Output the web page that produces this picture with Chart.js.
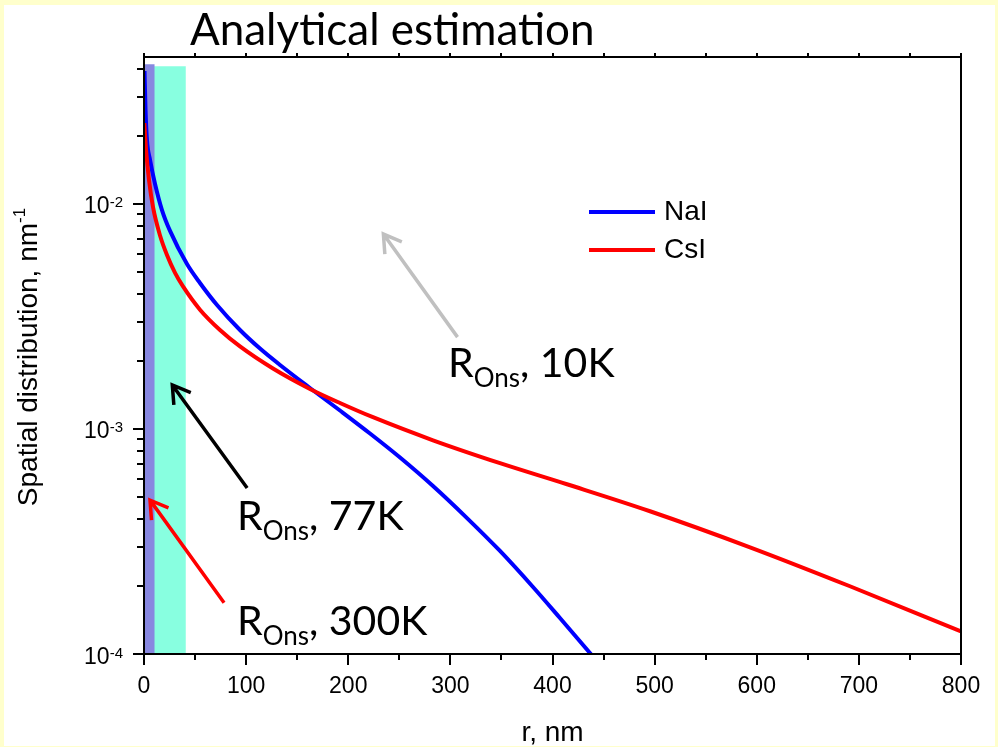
<!DOCTYPE html>
<html>
<head>
<meta charset="utf-8">
<script src="https://cdn.jsdelivr.net/npm/chart.js@4.4.1/dist/chart.umd.min.js"></script>
<style>
  html, body { margin: 0; padding: 0; background: #ffffcc; }
  #wrap { width: 998px; height: 747px; }
</style>
</head>
<body>
<div id="wrap"><canvas id="grafico" width="998" height="747"></canvas></div>
<script>
// Spatial distribution of pairs, r in nm
const naiR = [0.5, 1.5, 2.9, 5.9, 10.8, 17.6, 25.5, 42.1, 54.8, 71.5, 94, 113.6, 133.2, 162.5, 191.9, 221.3, 250.7, 283, 315.3, 348.6, 380.9, 407.3, 436.7, 446.5];
const naiV = [3.9e-2, 2.62e-2, 1.925e-2, 1.57e-2, 1.227e-2, 9.4e-3, 7.59e-3, 5.41e-3, 4.456e-3, 3.557e-3, 2.754e-3, 2.277e-3, 1.925e-3, 1.521e-3, 1.208e-3, 9.55e-4, 7.47e-4, 5.58e-4, 4.06e-4, 2.87e-4, 1.985e-4, 1.445e-4, 1.01e-4, 8.94e-5];
const csiR = [0.3, 2, 4.9, 8.8, 15.7, 22.5, 30.4, 38.2, 54.8, 74.4, 94, 126.3, 162.5, 191.9, 224.2, 283, 348.6, 414.2, 495.5, 593.4, 691.3, 800];
const csiV = [2.29e-2, 1.738e-2, 1.279e-2, 9.7e-3, 7.24e-3, 5.93e-3, 4.94e-3, 4.3e-3, 3.39e-3, 2.754e-3, 2.328e-3, 1.857e-3, 1.507e-3, 1.305e-3, 1.128e-3, 8.91e-4, 7.05e-4, 5.68e-4, 4.31e-4, 2.98e-4, 2.0e-4, 1.26e-4];

// Onsager radius bands (300K and 77K)
const band300R = [0, 10.5];
const band300Top = 4.18e-2;
const band77R = [0, 41];
const band77Top = 4.09e-2;

// Arrows pointing to R_Ons for each temperature
const arrowTemps  = ['10K', '77K', '300K'];
const arrowColors = ['#c0c0c0', '#000000', '#ff0000'];
const arrowFrom   = [[307, 2.56e-3], [101, 5.47e-4], [78.4, 1.69e-4]];
const arrowTo     = [[234.4, 7.35e-3], [27.7, 1.57e-3], [5.9, 4.83e-4]];
const labelAt     = [[297.7, 1.70e-3], [91.1, 3.56e-4], [91.1, 1.21e-4]];

// Axis ticks
const xMajor = [0, 100, 200, 300, 400, 500, 600, 700, 800];
const xMinor = [50, 150, 250, 350, 450, 550, 650, 750];
const yDecades = [1e-4, 1e-3, 1e-2];
const yExps = [-4, -3, -2];

const ARIAL = '"Liberation Sans", Arial, sans-serif';
const CALIB = 'Lato, "Open Sans", sans-serif';

function pts(xs, ys) { return xs.map((x, i) => ({ x: x, y: ys[i] })); }

function arrow(c, x0, y0, x1, y1, color) {
  const ang = Math.atan2(y1 - y0, x1 - x0);
  const len = 20, spread = 0.55;
  c.strokeStyle = color;
  c.lineWidth = 3.5;
  c.lineCap = 'butt';
  c.beginPath();
  c.moveTo(x0, y0); c.lineTo(x1, y1);
  c.moveTo(x1 - len * Math.cos(ang - spread), y1 - len * Math.sin(ang - spread));
  c.lineTo(x1, y1);
  c.lineTo(x1 - len * Math.cos(ang + spread), y1 - len * Math.sin(ang + spread));
  c.stroke();
}

function rOns(c, x, y, temp) {
  c.fillStyle = '#000';
  c.textBaseline = 'alphabetic';
  c.textAlign = 'left';
  c.font = '41px ' + CALIB;
  c.fillText('R', x, y);
  let w = c.measureText('R').width;
  c.font = '26px ' + CALIB;
  c.fillText('Ons', x + w, y + 10);
  w += c.measureText('Ons').width;
  c.font = '41px ' + CALIB;
  c.fillText(', ' + temp, x + w, y);
}

const ink = {
  id: 'ink',
  beforeDraw(chart) {
    const c = chart.ctx;
    c.save();
    c.fillStyle = '#ffffcc';
    c.fillRect(0, 0, chart.width, chart.height);
    c.fillStyle = '#ffffff';
    c.fillRect(4, 5, chart.width - 7, chart.height - 6);
    c.restore();
  },
  afterDraw(chart) {
    const c = chart.ctx, a = chart.chartArea;
    const sx = chart.scales.x, sy = chart.scales.y;
    c.save();

    // frame
    c.strokeStyle = '#000';
    c.lineWidth = 2;
    c.strokeRect(a.left, a.top, a.right - a.left, a.bottom - a.top);

    // x ticks
    c.beginPath();
    xMajor.forEach(v => {
      const px = Math.round(sx.getPixelForValue(v));
      c.moveTo(px, a.bottom); c.lineTo(px, a.bottom + 11);
      c.moveTo(px, a.top); c.lineTo(px, a.top - 4);
    });
    xMinor.forEach(v => {
      const px = Math.round(sx.getPixelForValue(v));
      c.moveTo(px, a.bottom); c.lineTo(px, a.bottom + 6);
      c.moveTo(px, a.top); c.lineTo(px, a.top - 4);
    });
    // y ticks
    yDecades.forEach(d => {
      const py = Math.round(sy.getPixelForValue(d));
      c.moveTo(a.left, py); c.lineTo(a.left - 11, py);
      for (let k = 2; k <= 9; k++) {
        if (d * k > sy.max) break;
        const pm = Math.round(sy.getPixelForValue(d * k));
        c.moveTo(a.left, pm); c.lineTo(a.left - 7, pm);
      }
    });
    c.stroke();

    // x tick labels
    c.fillStyle = '#000';
    c.font = '23px ' + ARIAL;
    c.textAlign = 'center';
    c.textBaseline = 'alphabetic';
    xMajor.forEach(v => c.fillText(String(v), sx.getPixelForValue(v), a.bottom + 39));

    // y tick labels 10^n
    yDecades.forEach((d, i) => {
      const py = sy.getPixelForValue(d);
      const sup = String(yExps[i]);
      c.textAlign = 'left';
      c.font = '15px ' + ARIAL;
      const ws = c.measureText(sup).width;
      c.font = '23px ' + ARIAL;
      const wb = c.measureText('10').width;
      const right = a.left - 21;
      c.fillText('10', right - ws - wb, py + 9.5);
      c.font = '15px ' + ARIAL;
      c.fillText(sup, right - ws, py + 3.5);
    });

    // axis titles
    c.font = '28px ' + ARIAL;
    c.textAlign = 'center';
    c.fillText('r, nm', (a.left + a.right) / 2, 741);

    c.save();
    c.translate(37, 357);
    c.rotate(-Math.PI / 2);
    c.font = '28px ' + ARIAL;
    const main = 'Spatial distribution, nm';
    const wm = c.measureText(main).width;
    c.font = '17px ' + ARIAL;
    const wsup = c.measureText('-1').width;
    const x0 = -(wm + wsup) / 2;
    c.textAlign = 'left';
    c.font = '28px ' + ARIAL;
    c.fillText(main, x0, 0);
    c.font = '17px ' + ARIAL;
    c.fillText('-1', x0 + wm, -12);
    c.restore();

    // legend
    const legend = [['NaI', '#0000ff', 212], ['CsI', '#ff0000', 250]];
    legend.forEach(([name, color, ly]) => {
      c.strokeStyle = color;
      c.lineWidth = 4;
      c.beginPath();
      c.moveTo(589, ly); c.lineTo(655, ly);
      c.stroke();
      c.fillStyle = '#000';
      c.font = '28px ' + ARIAL;
      c.textAlign = 'left';
      c.textBaseline = 'middle';
      c.fillText(name, 664, ly);
    });
    c.textBaseline = 'alphabetic';

    // arrows and R_Ons labels
    arrowTemps.forEach((t, i) => {
      arrow(c,
        sx.getPixelForValue(arrowFrom[i][0]), sy.getPixelForValue(arrowFrom[i][1]),
        sx.getPixelForValue(arrowTo[i][0]), sy.getPixelForValue(arrowTo[i][1]),
        arrowColors[i]);
      rOns(c, sx.getPixelForValue(labelAt[i][0]), sy.getPixelForValue(labelAt[i][1]), t);
    });

    // title
    c.fillStyle = '#000';
    c.font = '44px ' + CALIB;
    c.textAlign = 'left';
    c.fillText('Analytical estimation', 190, 45);

    c.restore();
  }
};

new Chart(document.getElementById('grafico').getContext('2d'), {
  type: 'line',
  data: { datasets: [
    { label: 'R_Ons 77K', data: pts(band77R, [band77Top, band77Top]), backgroundColor: '#88ffe0',
      borderWidth: 0, pointRadius: 0, fill: 'start', order: 3 },
    { label: 'R_Ons 300K', data: pts(band300R, [band300Top, band300Top]), backgroundColor: '#8888e0',
      borderWidth: 0, pointRadius: 0, fill: 'start', order: 2 },
    { label: 'NaI', data: pts(naiR, naiV), borderColor: '#0000ff', borderWidth: 4, pointRadius: 0,
      cubicInterpolationMode: 'monotone', fill: false, clip: 0, order: 1 },
    { label: 'CsI', data: pts(csiR, csiV), borderColor: '#ff0000', borderWidth: 4, pointRadius: 0,
      cubicInterpolationMode: 'monotone', fill: false, clip: 0, order: 0 }
  ]},
  options: {
    responsive: false,
    animation: false,
    devicePixelRatio: 1,
    parsing: false,
    layout: { padding: { left: 144, top: 57, right: 37, bottom: 93 } },
    plugins: { legend: { display: false }, tooltip: { enabled: false } },
    scales: {
      x: { type: 'linear', min: 0, max: 800, display: false },
      y: { type: 'logarithmic', min: 1e-4, max: 0.045, display: false }
    }
  },
  plugins: [ink]
});
</script>
</body>
</html>
